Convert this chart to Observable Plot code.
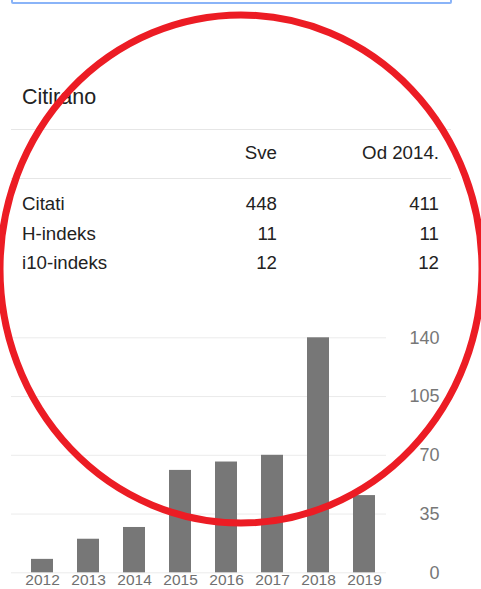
<!DOCTYPE html>
<html>
<head>
<meta charset="utf-8">
<script src="https://cdn.jsdelivr.net/npm/d3@7"></script>
<script src="https://cdn.jsdelivr.net/npm/@observablehq/plot@0.6"></script>
<style>
  html, body { margin: 0; padding: 0; background: #fff; }
  body { width: 481px; height: 589px; position: relative; overflow: hidden;
         font-family: Arial, "Liberation Sans", sans-serif; }
  .abs { position: absolute; line-height: 1; white-space: nowrap; }
  .search { position: absolute; left: 11px; top: -40px; width: 437px; height: 40px;
            border: 2px solid #8ab4f8; border-radius: 2px; box-sizing: content-box; }
  .hr { position: absolute; left: 11px; width: 440px; height: 1px; background: #e6e6e6; }
  #chart { position: absolute; left: 0; top: 310px; }
  #mark { position: absolute; left: 0; top: 0; pointer-events: none; }
</style>
</head>
<body>
<div class="search"></div>
<div id="table"></div>
<div id="chart"></div>
<svg id="mark" width="481" height="589"></svg>
<script>
// ---- data ----
const title = "Citirano";
const colHeaders = ["Sve", "Od 2014."];
const rowLabels = ["Citati", "H-indeks", "i10-indeks"];
const valuesAll = [448, 11, 12];
const valuesSince = [411, 11, 12];
const years = ["2012", "2013", "2014", "2015", "2016", "2017", "2018", "2019"];
const citations = [8, 20, 27, 61, 66, 70, 140, 46];
const yTicks = [0, 35, 70, 105, 140];

// ---- stats table (HTML) ----
const table = document.getElementById("table");
function addText(txt, opts) {
  const d = document.createElement("div");
  d.className = "abs";
  d.textContent = txt;
  Object.assign(d.style, opts);
  table.appendChild(d);
}
addText(title, { left: "22px", top: "86.8px", fontSize: "21.5px", color: "#222" });
const hr1 = document.createElement("div"); hr1.className = "hr"; hr1.style.top = "129px"; table.appendChild(hr1);
const hr2 = document.createElement("div"); hr2.className = "hr"; hr2.style.top = "177.5px"; table.appendChild(hr2);
const rightEdges = ["204px", "42px"];
colHeaders.forEach((h, i) => addText(h, { right: rightEdges[i], top: "144.2px", fontSize: "18.7px", color: "#222" }));
const rowTops = [195.2, 225.0, 253.6];
rowLabels.forEach((r, i) => {
  addText(r, { left: "22px", top: rowTops[i] + "px", fontSize: "18.7px", color: "#222" });
  addText(String(valuesAll[i]), { right: rightEdges[0], top: rowTops[i] + "px", fontSize: "18.7px", color: "#222" });
  addText(String(valuesSince[i]), { right: rightEdges[1], top: rowTops[i] + "px", fontSize: "18.7px", color: "#222" });
});

// ---- bar chart (Plot) ----
const data = years.map((y, i) => ({ year: y, count: citations[i] }));
const chart = Plot.plot({
  width: 481,
  height: 279,
  marginTop: 27.3,
  marginBottom: 16.7,
  marginLeft: 11,
  marginRight: 95,
  style: { background: "transparent", fontFamily: "Arial, 'Liberation Sans', sans-serif", overflow: "visible" },
  x: { domain: years, paddingInner: 0.53, paddingOuter: 0.267, align: 0.64, label: null },
  y: { domain: [0, 140], label: null },
  marks: [
    Plot.gridY(yTicks, { stroke: "#ebebeb", strokeOpacity: 1, strokeWidth: 1 }),
    Plot.barY(data, { x: "year", y: "count", fill: "#777777" }),
    Plot.axisX({ tickSize: 0, tickPadding: 1.5, fontSize: 15.5, fill: "#707070", label: null }),
    Plot.axisY(yTicks, { anchor: "right", tickSize: 0, tickPadding: 53, textAnchor: "end", fontSize: 18, fill: "#777", label: null })
  ]
});
document.getElementById("chart").appendChild(chart);

// ---- red hand-drawn annotation ring ----
const mark = d3.select("#mark");
mark.append("ellipse")
  .attr("cx", 241).attr("cy", 269).attr("rx", 241).attr("ry", 254)
  .attr("fill", "none").attr("stroke", "#ec1c24").attr("stroke-width", 7);
</script>
</body>
</html>
